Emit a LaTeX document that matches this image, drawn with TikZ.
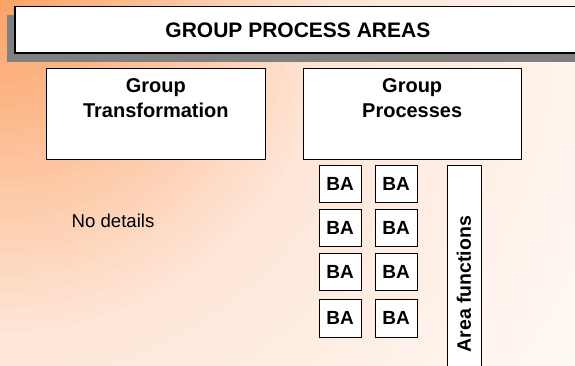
\documentclass[tikz,border=0pt]{standalone}
\usepackage{fontspec}
\setmainfont{Liberation Sans}
\usetikzlibrary{positioning}

\definecolor{bgcorner}{HTML}{FBA264}
\definecolor{bgmid}{HTML}{FEE6D8}
\definecolor{bgfar}{HTML}{FFFAF6}
\definecolor{shadowgray}{HTML}{808080}

\tikzset{
  areabox/.style={draw, line width=1pt, fill=white, inner sep=0pt},
  bigtext/.style={font=\bfseries\fontsize{20}{25.7}\selectfont, align=center, inner sep=0pt},
  babox/.style={areabox, minimum width=42, minimum height=37.4, font=\bfseries\fontsize{19}{22}\selectfont},
}

\begin{document}
\begin{tikzpicture}[x=1pt, y=-1pt]

\useasboundingbox (0,0) rectangle (575,365);
\clip (0,0) rectangle (575,365);
% background glow from the top left corner
\fill[bgfar] (0,0) rectangle (575,365);
\foreach \r in {700,692,...,348} {
  \pgfmathtruncatemacro\p{(\r-340)/3.6}
  \fill[bgfar!\p!bgmid] (0,0) circle (\r);
}
\foreach \r in {340,332,...,4} {
  \pgfmathtruncatemacro\p{\r/3.4}
  \fill[bgmid!\p!bgcorner] (0,0) circle (\r);
}

% title bar with shadow
\fill[shadowgray] (6.6,15.4) rectangle (590,62);
\node[areabox, line width=1.5pt, minimum width=566.3, minimum height=46.4,
      font=\bfseries\fontsize{21}{25}\selectfont] (title) at (297.9,29.8) {GROUP PROCESS AREAS};

% the two areas
\node[areabox, minimum width=218.4, minimum height=90.4] (grptrans) at (155.8,113.8) {};
\node[bigtext, anchor=north] (grptranstxt) at ([yshift=-10]grptrans.north) {Group\\Transformation};
\node[areabox, minimum width=218.4, minimum height=90.4] (grpproc) at (412.2,113.8) {};
\node[bigtext, anchor=north] (grpproctxt) at ([yshift=-10]grpproc.north) {Group\\Processes};

\node[font=\fontsize{18.6}{22}\selectfont, anchor=west, inner sep=0pt] (nodet) at (71.5,220.7) {No details};

% business areas
\node[babox] (ba11) at (340,184.1) {BA};
\node[babox] (ba12) at (396,184.1) {BA};
\node[babox] (ba21) at (340,228.1) {BA};
\node[babox] (ba22) at (396,228.1) {BA};
\node[babox] (ba31) at (340,271.9) {BA};
\node[babox] (ba32) at (396,271.9) {BA};
\node[babox] (ba41) at (340,318.3) {BA};
\node[babox] (ba42) at (396,318.3) {BA};

\node[areabox, minimum width=34, minimum height=237.6] (areafun) at (464,284.2) {};
\node[rotate=90, inner sep=0pt, font=\bfseries\fontsize{19.5}{22}\selectfont] (areafuntxt) at (areafun.center) {Area functions};

\end{tikzpicture}
\end{document}
